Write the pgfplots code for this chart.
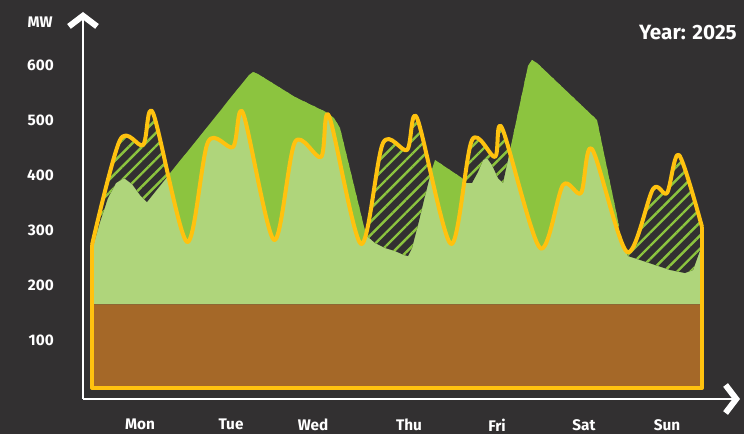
\documentclass[border=0pt]{standalone}
\usepackage{fontspec}
\setmainfont{Fira Sans}
\usepackage{pgfplots}
\pgfplotsset{compat=1.18}
\usepgfplotslibrary{fillbetween}
\usetikzlibrary{arrows.meta,patterns.meta}
\definecolor{bgc}{HTML}{323031}
\definecolor{dgreen}{HTML}{8CC43F}
\definecolor{lgreen}{HTML}{AFD57B}
\definecolor{brownc}{HTML}{A56828}
\definecolor{yell}{HTML}{FFC20F}

\begin{document}
\begin{tikzpicture}
\begin{axis}[
  set layers, clip=false,
  scale only axis, width=492.75pt, height=290.25pt,
  xmin=83, xmax=740, ymin=-7.27, ymax=696.4,
  axis lines=left,
  axis line style={draw=white, line width=2pt, -{Straight Barb[length=8pt,width=21pt,line width=4.5pt]}},
  major tick length=0pt,
  xtick={140,231,313,409,497,584,667},
  xticklabels={Mon,Tue,Wed,Thu,Fri,Sat,Sun},
  ytick={100,200,300,400,500,600},
  yticklabels={100,200,300,400,500,600},
  ticklabel style={font=\fontsize{11.5}{12}\selectfont\bfseries, text=white},
  yticklabel style={inner sep=0pt, xshift=-21.75pt},
  xticklabel style={inner sep=0pt, yshift=-15pt},
  ylabel={MW},
  every axis y label/.style={at={(rel axis cs:-0.0654,0.974)}, anchor=center,
    font=\fontsize{11.5}{12}\selectfont\bfseries, text=white},
  title={Year: 2025},
  every axis title/.style={at={(rel axis cs:0.9955,0.948)}, anchor=east, inner sep=0pt,
    font=\fontsize{15.5}{16}\selectfont\bfseries, text=white},
]
\begin{pgfonlayer}{axis background}
\fill[bgc] (rel axis cs:-0.12633,-0.09044) rectangle (rel axis cs:1.00609,1.03101);
\end{pgfonlayer}
% demand (yellow line)
\addplot[draw=none, name path=demand, smooth] coordinates {
 (92,272.7) (120,463.6) (143,454.5) (153,512.7) (187,278.2)
 (208,460.0) (233,450.9) (243,512.7) (274,281.8)
 (295,460.0) (321,432.7) (329,507.3) (361,274.5)
 (383,458.2) (407,445.5) (417,503.6) (451,274.5)
 (472,463.6) (495,432.7) (502,485.5) (540,267.3)
 (563,381.8) (581,367.3) (592,447.3) (627,260.0)
 (653,374.5) (667,367.3) (679,436.4) (702,305.5)
};
% supply (green top)
\addplot[draw=none, name path=supply] coordinates {
 (92,263.6) (100,314.5) (108,358.2) (116,385.5) (124,394.5) (132,383.6)
 (140,363.6) (147,350.9) (249,581.8) (253,587.3) (258,583.6)
 (295,541.8) (326,514.5) (334,503.6) (340,485.5) (366,290.9)
 (375,276.4) (385,267.3) (395,261.8) (404,254.5) (408,252.7)
 (412,267.3) (418,309.1) (425,361.8) (431,405.5) (435,427.3)
 (462,394.5) (466,385.5) (472,385.5) (478,405.5) (483,427.3)
 (487,431.0) (492,418.2) (498,394.5) (503,385.5)
 (528,598.2) (532,609.1) (537,603.6) (597,500.0)
 (622,281.8) (628,252.7) (640,245.5) (655,236.4) (670,227.3)
 (685,221.8) (693,227.3) (702,272.7)
};
% base line
\addplot[draw=none, name path=base] coordinates {(92,165) (702,165)};

\addplot[lgreen] fill between[of=demand and base];
\addplot[bgc] fill between[of=demand and supply];
\addplot[pattern={Lines[angle=45,distance=7pt,line width=1.8pt]}, pattern color=dgreen] fill between[of=demand and supply];
\addplot[dgreen] fill between[of=demand and supply, soft clip={domain=169:365}];
\addplot[dgreen] fill between[of=demand and supply, soft clip={domain=432:464}];
\addplot[dgreen] fill between[of=demand and supply, soft clip={domain=511:618}];

% base load
\addplot[fill=brownc, draw=none] coordinates {(92,12.7) (702,12.7) (702,165) (92,165) (92,12.7)};

% outline
\addplot[yell, line width=3pt, smooth, line join=round] coordinates {
 (92,272.7) (120,463.6) (143,454.5) (153,512.7) (187,278.2)
 (208,460.0) (233,450.9) (243,512.7) (274,281.8)
 (295,460.0) (321,432.7) (329,507.3) (361,274.5)
 (383,458.2) (407,445.5) (417,503.6) (451,274.5)
 (472,463.6) (495,432.7) (502,485.5) (540,267.3)
 (563,381.8) (581,367.3) (592,447.3) (627,260.0)
 (653,374.5) (667,367.3) (679,436.4) (702,305.5)
};
\addplot[yell, line width=3pt, line join=round] coordinates {(92,272.7) (92,12.7) (702,12.7) (702,305.5)};
\end{axis}
\end{tikzpicture}
\end{document}
